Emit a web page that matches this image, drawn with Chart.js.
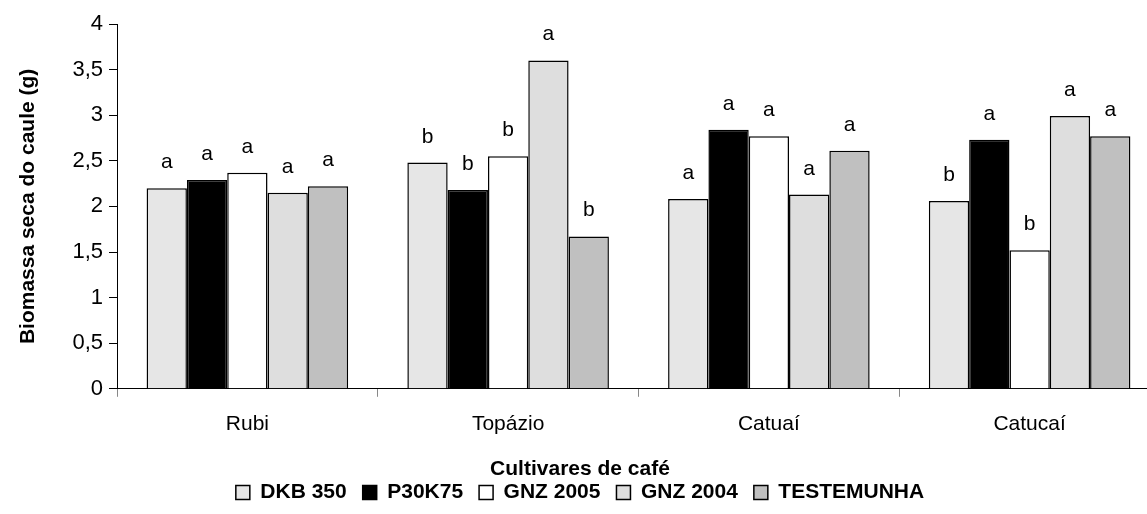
<!DOCTYPE html>
<html>
<head>
<meta charset="utf-8">
<script src="https://cdn.jsdelivr.net/npm/chart.js@4"></script>
<style>
  html, body { margin: 0; padding: 0; background: #fff; overflow: hidden; }
</style>
</head>
<body>
<canvas id="biomassaChart" width="1170" height="514"></canvas>
<script>
const cultivares = ["Rubi", "Topázio", "Catuaí", "Catucaí"];

const dkb350 = [2.20, 2.48, 2.08, 2.06];
const p30k75 = [2.29, 2.18, 2.84, 2.73];
const gnz2005 = [2.37, 2.55, 2.77, 1.52];
const gnz2004 = [2.15, 3.60, 2.13, 2.99];
const testemunha = [2.22, 1.67, 2.61, 2.77];

// letras do teste de medias
const letrasDkb = ["a", "b", "a", "b"];
const letrasP30 = ["a", "b", "a", "a"];
const letrasGnz05 = ["a", "b", "a", "b"];
const letrasGnz04 = ["a", "a", "a", "a"];
const letrasTest = ["a", "b", "a", "a"];

const yTicks = [0, 0.5, 1, 1.5, 2, 2.5, 3, 3.5, 4];

const font = "'Liberation Sans', Arial, sans-serif";

const letrasPlugin = {
  id: "letras",
  afterDatasetsDraw(chart) {
    const ctx = chart.ctx;
    ctx.save();
    ctx.font = "21px " + font;
    ctx.fillStyle = "#000";
    ctx.textAlign = "center";
    ctx.textBaseline = "alphabetic";
    chart.data.datasets.forEach((ds, i) => {
      chart.getDatasetMeta(i).data.forEach((bar, j) => {
        ctx.fillText(ds.letras[j], bar.x, bar.y - 20);
      });
    });
    ctx.restore();
  }
};

const ctx = document.getElementById("biomassaChart").getContext("2d");
new Chart(ctx, {
  type: "bar",
  data: {
    labels: cultivares,
    datasets: [
      { label: "DKB 350", data: dkb350, letras: letrasDkb, backgroundColor: "#e6e6e6" },
      { label: "P30K75", data: p30k75, letras: letrasP30, backgroundColor: "#000000" },
      { label: "GNZ 2005", data: gnz2005, letras: letrasGnz05, backgroundColor: "#ffffff" },
      { label: "GNZ 2004", data: gnz2004, letras: letrasGnz04, backgroundColor: "#dedede" },
      { label: "TESTEMUNHA", data: testemunha, letras: letrasTest, backgroundColor: "#c0c0c0" }
    ].map(ds => Object.assign(ds, {
      borderColor: "#000",
      borderWidth: 1.5,
      categoryPercentage: 0.773,
      barPercentage: 1.0
    }))
  },
  options: {
    responsive: false,
    animation: false,
    layout: { padding: { top: 24, right: 10, bottom: 1, left: 0 } },
    plugins: {
      legend: {
        display: true,
        position: "bottom",
        weight: 1000,
        labels: {
          color: "#000",
          font: { family: font, size: 21, weight: "bold" },
          boxWidth: 14,
          boxHeight: 14,
          padding: 16
        }
      },
      title: {
        display: true,
        position: "bottom",
        weight: 500,
        text: "Cultivares de café",
        color: "#000",
        font: { family: font, size: 21, weight: "bold" },
        padding: { top: 14, bottom: -16 }
      },
      tooltip: { enabled: false }
    },
    scales: {
      x: {
        grid: { drawOnChartArea: false, drawTicks: true, tickLength: 8, color: "#888", offset: true },
        border: { color: "#000", width: 1 },
        ticks: { color: "#000", font: { family: font, size: 21 }, padding: 15 },
        afterFit(scale) { scale.height = 54; }
      },
      y: {
        min: 0,
        max: 4,
        afterBuildTicks(scale) { scale.ticks = yTicks.map(v => ({ value: v })); },
        grid: { drawOnChartArea: false, drawTicks: true, tickLength: 8, color: "#000" },
        border: { color: "#000", width: 1 },
        ticks: {
          color: "#000",
          font: { family: font, size: 22 },
          padding: 6,
          callback: v => String(v).replace(".", ",")
        },
        title: {
          display: true,
          text: "Biomassa seca do caule (g)",
          color: "#000",
          font: { family: font, size: 21, weight: "bold" },
          padding: { top: 16, bottom: 0 }
        },
        afterFit(scale) { scale.width = 117; }
      }
    }
  },
  plugins: [letrasPlugin]
});
</script>
</body>
</html>
